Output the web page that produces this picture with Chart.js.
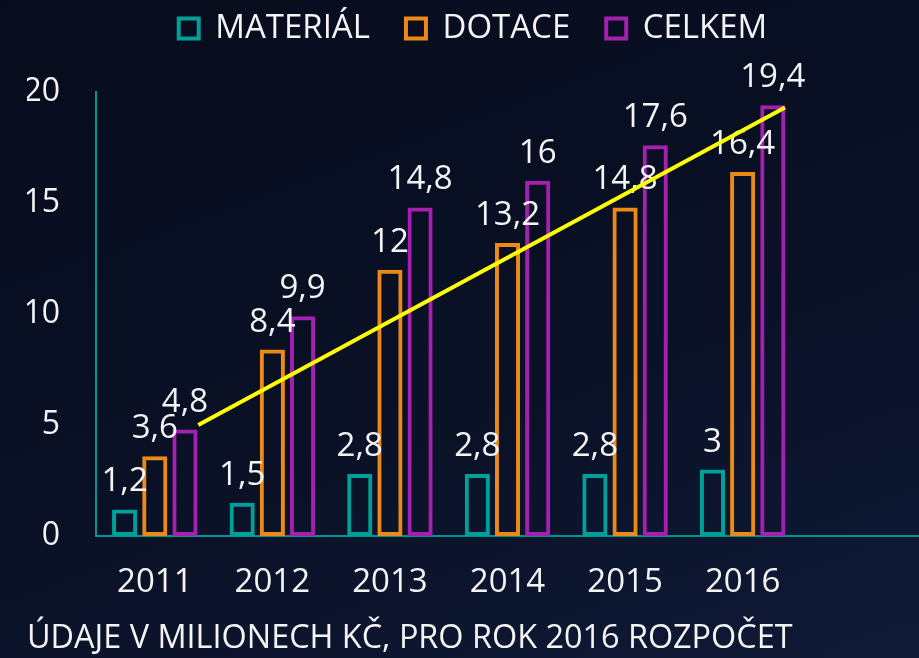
<!DOCTYPE html>
<html>
<head>
<meta charset="utf-8">
<script src="https://cdn.jsdelivr.net/npm/chart.js@4.4.1/dist/chart.umd.min.js"></script>
<style>
  html, body { margin: 0; padding: 0; }
  body {
    width: 919px; height: 658px; overflow: hidden;
    background: linear-gradient(160deg, #070c1c 0%, #0a1126 55%, #0f1a36 100%);
  }
  #wrap { width: 919px; height: 658px; }
</style>
</head>
<body>
<div id="wrap"><canvas id="chart" width="919" height="658"></canvas></div>
<script>
// data
const years = ['2011', '2012', '2013', '2014', '2015', '2016', ''];
const material = [1.2, 1.5, 2.8, 2.8, 2.8, 3];
const dotace = [3.6, 8.4, 12, 13.2, 14.8, 16.4];
const celkem = [4.8, 9.9, 14.8, 16, 17.6, 19.4];
// trend line ends, x given as category index
const trendX = [0.37, 5.36];
const trendY = [5.0, 19.3];

const white = '#f4f4f4';
const axisColor = '#00958f';
const fontFamily = "'Open Sans', 'Noto Sans', sans-serif";

// value labels above each bar
const barLabels = {
  id: 'barLabels',
  afterDatasetDraw(chart, args) {
    const ds = chart.data.datasets[args.index];
    if (ds.type !== 'bar') return;
    const ctx = chart.ctx;
    ctx.save();
    ctx.fillStyle = white;
    ctx.font = `33px ${fontFamily}`;
    ctx.textAlign = 'center';
    ctx.textBaseline = 'alphabetic';
    args.meta.data.forEach((bar, i) => {
      const txt = String(ds.data[i]).replace('.', ',');
      ctx.fillText(txt, bar.x, bar.y - 18);
    });
    ctx.restore();
  }
};

// legend sits high, plot starts lower
const legendSpace = {
  id: 'legendSpace',
  beforeInit(chart) {
    const fit = chart.legend.fit;
    chart.legend.fit = function () {
      fit.call(this);
      this.height = 116;
    };
  }
};

function barSet(label, data, color) {
  return {
    type: 'bar',
    label: label,
    data: data,
    backgroundColor: 'rgba(0,0,0,0)',
    borderColor: color,
    borderWidth: 4,
    borderSkipped: false,
    categoryPercentage: 0.77,
    barPercentage: 0.833
  };
}

const ctx = document.getElementById('chart').getContext('2d');
new Chart(ctx, {
  type: 'bar',
  data: {
    labels: years,
    datasets: [
      {
        type: 'line',
        label: 'trend',
        parsing: false,
        data: trendX.map((x, i) => ({ x: x, y: trendY[i] })),
        borderColor: '#ffff00',
        borderWidth: 4,
        pointRadius: 0,
        fill: false
      },
      barSet('MATERIÁL', material, '#00a09a'),
      barSet('DOTACE', dotace, '#ec8a17'),
      barSet('CELKEM', celkem, '#a51fb0')
    ]
  },
  plugins: [barLabels, legendSpace],
  options: {
    responsive: false,
    animation: false,
    layout: { padding: { left: 27, right: 0, top: -24, bottom: 0 } },
    plugins: {
      legend: {
        display: true,
        position: 'top',
        labels: {
          color: white,
          font: { family: fontFamily, size: 33 },
          boxWidth: 20,
          boxHeight: 20,
          padding: 36,
          filter: (item) => item.text !== 'trend'
        }
      },
      title: {
        display: true,
        position: 'bottom',
        align: 'start',
        text: 'ÚDAJE V MILIONECH KČ, PRO ROK 2016 ROZPOČET',
        color: white,
        font: { family: fontFamily, size: 32.4, weight: 'normal' },
        padding: { top: 16, bottom: 0 }
      },
      tooltip: { enabled: false }
    },
    scales: {
      x: {
        type: 'category',
        afterFit: (scale) => { scale.height = 67; },
        grid: { display: false, drawTicks: false },
        border: { display: true, color: axisColor, width: 2 },
        ticks: {
          color: white,
          padding: 27,
          font: { family: fontFamily, size: 33 },
          maxRotation: 0
        }
      },
      y: {
        min: 0,
        max: 20,
        afterFit: (scale) => { scale.width = 69; },
        grid: { display: false, drawTicks: false },
        border: { display: true, color: axisColor, width: 2 },
        ticks: {
          stepSize: 5,
          color: white,
          padding: 36,
          font: { family: fontFamily, size: 32 }
        }
      }
    }
  }
});
</script>
</body>
</html>
